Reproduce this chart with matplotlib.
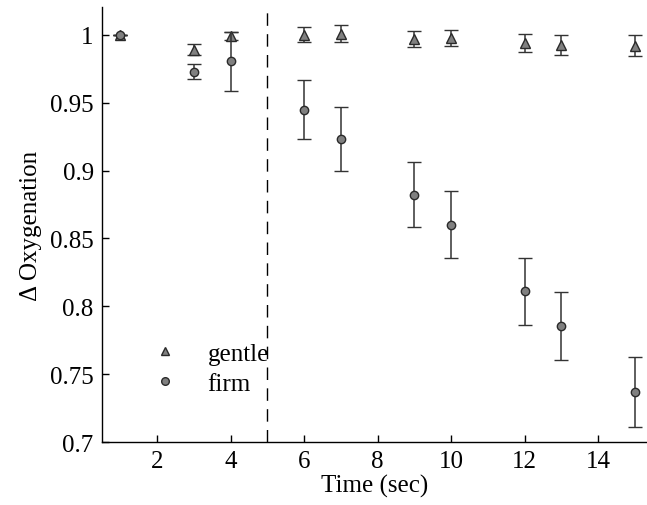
import matplotlib
matplotlib.use("Agg")
import matplotlib.pyplot as plt
from matplotlib.lines import Line2D

plt.rcParams['font.family'] = ['Liberation Serif', 'DejaVu Serif']
plt.rcParams['mathtext.fontset'] = 'stix'

# Data
gentle_t = [1, 3, 4, 6, 7, 9, 10, 12, 13, 15]
gentle_y = [1.0, 0.989, 0.9995, 1.0, 1.001, 0.997, 0.998, 0.994, 0.9925, 0.992]
gentle_err = [0.0, 0.004, 0.003, 0.0055, 0.0064, 0.006, 0.006, 0.0065, 0.0074, 0.0077]

firm_t = [1, 3, 4, 6, 7, 9, 10, 12, 13, 15]
firm_y = [1.0, 0.973, 0.9805, 0.945, 0.9234, 0.8823, 0.860, 0.811, 0.7855, 0.737]
firm_err = [0.0, 0.0055, 0.0215, 0.022, 0.0236, 0.0237, 0.0247, 0.0247, 0.0254, 0.0258]

xticks = [2, 4, 6, 8, 10, 12, 14]
yticks = [0.7, 0.75, 0.8, 0.85, 0.9, 0.95, 1.0]
ytick_labels = ['0.7', '0.75', '0.8', '0.85', '0.9', '0.95', '1']
divider_t = 5

fig = plt.figure(figsize=(6.47, 5.06), dpi=100)
ax = fig.add_axes([102/647, 63/506, 1 - 102/647, 435/506])

fill = '#808080'
edge = '#2a2a2a'
errc = '#333333'

ax.errorbar(gentle_t, gentle_y, yerr=gentle_err, fmt='^', ms=6.5, mfc=fill, mec=edge,
            mew=1.0, ecolor=errc, elinewidth=1.1, capsize=5, capthick=1.1, zorder=3)
ax.errorbar(firm_t, firm_y, yerr=firm_err, fmt='o', ms=6, mfc=fill, mec=edge,
            mew=1.0, ecolor=errc, elinewidth=1.1, capsize=5, capthick=1.1, zorder=4)

ax.axvline(divider_t, color='black', lw=1.0, dashes=(9, 6))

ax.set_xlim(0.5, 15.33)
ax.set_ylim(0.7, 1.0206)
ax.set_xticks(xticks)
ax.set_xticklabels([str(v) for v in xticks])
ax.set_yticks(yticks)
ax.set_yticklabels(ytick_labels)
ax.tick_params(direction='in', length=5, width=1, labelsize=18, top=False, right=False, pad=6)
ax.spines['top'].set_visible(False)
ax.spines['right'].set_visible(False)
for s in ['left', 'bottom']:
    ax.spines[s].set_linewidth(1.0)

ax.set_xlabel('Time (sec)', fontsize=18, labelpad=1)
ax.set_ylabel('Δ Oxygenation', fontsize=18, labelpad=6)

handles = [Line2D([], [], marker='^', ls='none', ms=6, mfc=fill, mec=edge, mew=1.0),
           Line2D([], [], marker='o', ls='none', ms=5.5, mfc=fill, mec=edge, mew=1.0)]
ax.legend(handles, ['gentle', 'firm'], loc='lower left', bbox_to_anchor=(0.07, 0.08),
          frameon=False, fontsize=18, labelspacing=0.28, handlelength=1.0, handletextpad=1.2,
          borderpad=0)

fig.savefig('out.png', dpi=100)
